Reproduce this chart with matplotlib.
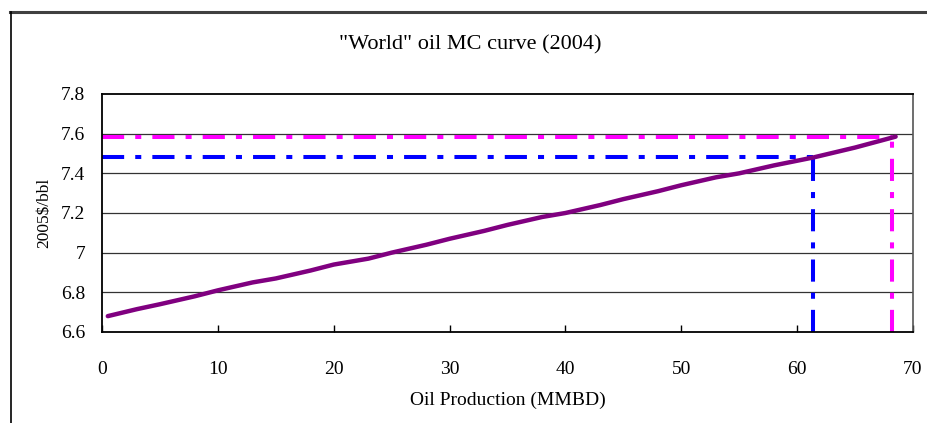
import matplotlib
matplotlib.use("Agg")
import matplotlib.pyplot as plt
from matplotlib.lines import Line2D

plt.rcParams['font.family'] = ['Liberation Serif', 'DejaVu Serif']

# Marginal cost curve: cumulative production (MMBD) vs cost (2005$/bbl)
production = [0.5, 3, 5, 8, 10, 13, 15, 18, 20, 23, 25, 28, 30, 33, 35, 38,
              40, 43, 45, 48, 50, 53, 55, 58, 61.4, 65, 68.5]
cost = [6.68, 6.715, 6.74, 6.78, 6.81, 6.85, 6.87, 6.91, 6.94, 6.97, 7.00,
        7.04, 7.07, 7.11, 7.14, 7.18, 7.20, 7.24, 7.27, 7.31, 7.34, 7.38,
        7.40, 7.44, 7.48, 7.53, 7.585]

# Reference levels (production, cost)
blue_q, blue_p = 61.4, 7.48
magenta_q, magenta_p = 68.2, 7.583

x_ticks = [0, 10, 20, 30, 40, 50, 60, 70]
y_ticks = [6.6, 6.8, 7.0, 7.2, 7.4, 7.6, 7.8]
y_tick_labels = ['6.6', '6.8', '7', '7.2', '7.4', '7.6', '7.8']

fig = plt.figure(figsize=(9.27, 4.23), dpi=100)
W, H = 927, 423

# outer chart frame
fig.add_artist(Line2D([10 / W, 1.0], [1 - 12 / H, 1 - 12 / H], transform=fig.transFigure,
                      color='#404040', lw=2.2))
fig.add_artist(Line2D([10.5 / W, 10.5 / W], [0, 1 - 12 / H], transform=fig.transFigure,
                      color='black', lw=1.2))

ax = fig.add_axes([102 / W, 1 - 332 / H, (913 - 102) / W, (332 - 94) / H])
ax.set_xlim(0, 70)
ax.set_ylim(6.6, 7.8)

for y in y_ticks[1:-1]:
    ax.axhline(y, color='#333333', lw=0.9, zorder=1)

dash = (0, (5.5, 2.75, 1.5, 2.75))
lw_ref = 2.9
ax.plot([0, blue_q], [blue_p, blue_p], color='#0000FF', lw=lw_ref, linestyle=dash, zorder=2)
ax.plot([blue_q, blue_q], [6.6, blue_p], color='#0000FF', lw=lw_ref, linestyle=dash, zorder=2)
ax.plot([0, magenta_q], [magenta_p, magenta_p], color='#FF00FF', lw=lw_ref, linestyle=dash, zorder=2)
ax.plot([magenta_q, magenta_q], [6.6, magenta_p], color='#FF00FF', lw=lw_ref, linestyle=dash, zorder=2)

ax.plot(production, cost, color='#800080', lw=3.2, solid_capstyle='round', zorder=3)

ax.set_xticks(x_ticks)
ax.set_yticks(y_ticks)
ax.set_yticklabels(y_tick_labels)
ax.tick_params(axis='x', direction='in', length=5, width=1, pad=21, labelsize=14)
ax.tick_params(axis='y', length=0, pad=12, labelsize=14)

for side in ['left', 'bottom', 'top']:
    ax.spines[side].set_color('black')
    ax.spines[side].set_linewidth(1.3)
ax.spines['right'].set_color('#555555')
ax.spines['right'].set_linewidth(1.2)

ax.set_xlabel('Oil Production (MMBD)', fontsize=14, labelpad=10)
ax.set_ylabel('2005$/bbl', fontsize=12.5, labelpad=6)

fig.text(470 / W, 1 - 45 / H, '"World" oil MC curve (2004)', ha='center', va='center',
         fontsize=16)

fig.savefig('out.png', dpi=100)
